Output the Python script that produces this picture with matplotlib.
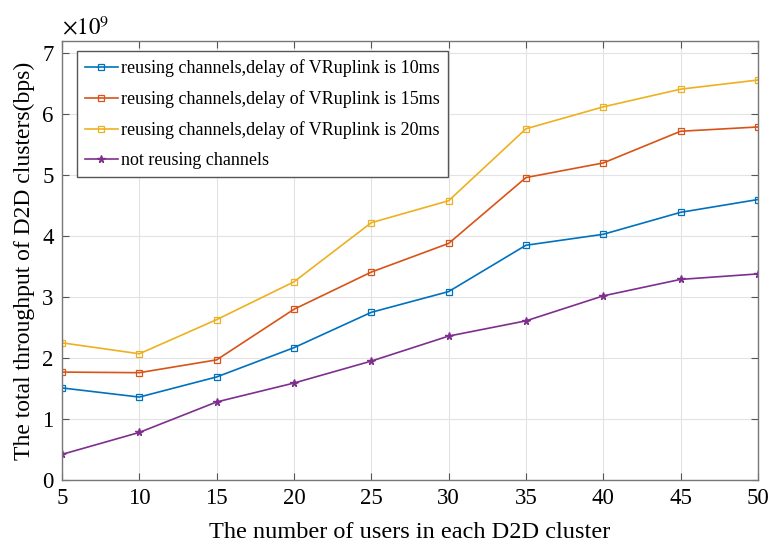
import numpy as np
import matplotlib
matplotlib.use('Agg')
import matplotlib.pyplot as plt

plt.rcParams['font.family'] = ['Liberation Serif', 'DejaVu Serif']
plt.rcParams['mathtext.fontset'] = 'stix'

# number of users per D2D cluster
users = [5, 10, 15, 20, 25, 30, 35, 40, 45, 50]

# throughput (x 1e9 bps)
delay_10ms = [1.51, 1.36, 1.69, 2.17, 2.75, 3.09, 3.85, 4.03, 4.39, 4.60]
delay_15ms = [1.77, 1.76, 1.97, 2.80, 3.41, 3.88, 4.96, 5.20, 5.72, 5.79]
delay_20ms = [2.25, 2.07, 2.63, 3.25, 4.22, 4.58, 5.76, 6.12, 6.41, 6.56]
not_reusing = [0.42, 0.78, 1.28, 1.59, 1.95, 2.36, 2.61, 3.02, 3.29, 3.38]

labels = ['reusing channels,delay of VRuplink is 10ms',
          'reusing channels,delay of VRuplink is 15ms',
          'reusing channels,delay of VRuplink is 20ms',
          'not reusing channels']
colors = ['#0072BD', '#D95319', '#EDB120', '#7E2F8E']

fig = plt.figure(figsize=(7.69, 5.46), dpi=100)
ax = fig.add_axes([0.0806, 0.1209, 0.905, 0.804])

for ys, lab, c in zip([delay_10ms, delay_15ms, delay_20ms], labels[:3], colors[:3]):
    ax.plot(users, ys, color=c, lw=1.2, marker='s', ms=5, mfc='none', mew=0.9, label=lab)
ax.plot(users, not_reusing, color=colors[3], lw=1.2, marker='*', ms=5.5, label=labels[3])

ax.set_xlim(5, 50)
ax.set_ylim(0, 7.2)
ax.set_xticks(users)
ax.set_yticks(range(0, 8))
ax.grid(True, color='#e3e3e3', lw=0.8)
ax.set_axisbelow(True)
ax.tick_params(direction='in', top=True, right=True, labelsize=16.5, length=5, color='#555555', pad=6)
for s in ax.spines.values():
    s.set_color('#777777')
    s.set_linewidth(1.0)

ax.set_xlabel('The number of users in each D2D cluster', fontsize=17.5, labelpad=9)
ax.set_ylabel('The total throughput of D2D clusters(bps)', fontsize=17, labelpad=5)
ax.text(0.0, 1.004, r'$\times10^9$', transform=ax.transAxes, fontsize=16.5, va='bottom', ha='left')

leg = ax.legend(loc='upper left', fontsize=13, handlelength=1.8, handletextpad=0.2,
                borderpad=0.45, labelspacing=0.72, fancybox=False, framealpha=1,
                bbox_to_anchor=(0.0216, 0.977), borderaxespad=0)
leg.get_frame().set_edgecolor('#555555')
leg.get_frame().set_linewidth(1.0)

fig.savefig('out.png', dpi=100)
